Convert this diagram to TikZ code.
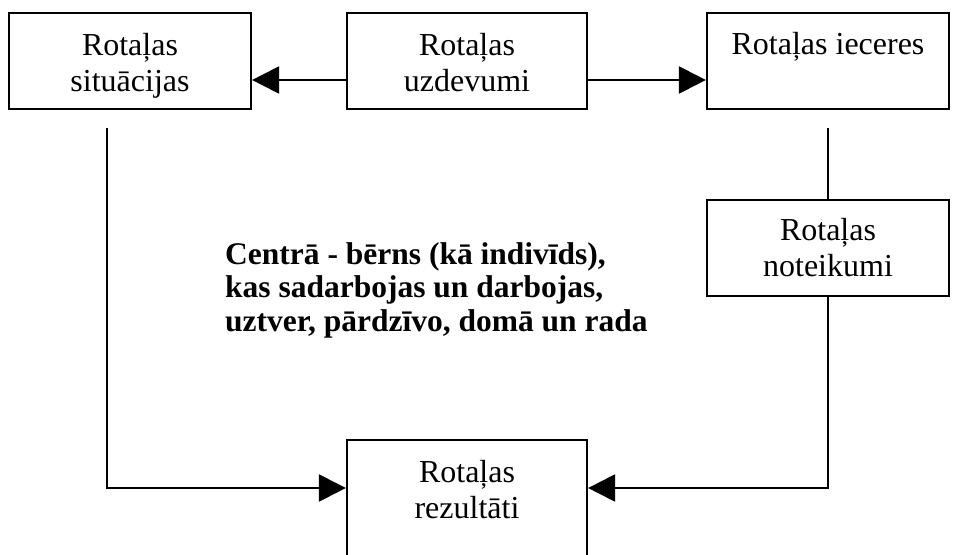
\documentclass[tikz,border=0pt]{standalone}
\usepackage{fontspec}
\setmainfont{Liberation Serif}
\usepackage{tikz}
\usetikzlibrary{arrows.meta,positioning}

\begin{document}
\begin{tikzpicture}[
    x=1pt, y=-1pt,
    box/.style={draw, line width=2.2pt, minimum width=242pt, minimum height=96pt, inner sep=0pt},
    txt/.style={anchor=north, inner sep=0pt, align=center, font=\fontsize{32}{36}\selectfont},
    ar/.style={-{Triangle[length=27pt, width=27pt]}, line width=2.2pt}
  ]
    \useasboundingbox (0,0) rectangle (960,554);

    \node[box] (sit) at (130,61) {};
    \node[box, minimum width=240pt] (uzd) at (467,61) {};
    \node[box] (iec) at (828,61) {};
    \node[box] (not) at (828,248) {};
    \node[box, minimum width=240pt, minimum height=120pt] (rez) at (467,500) {};

    \node[txt] (sit-t) at ([yshift=-21pt]sit.north) {Rotaļas\\situācijas};
    \node[txt] (uzd-t) at ([yshift=-21pt]uzd.north) {Rotaļas\\uzdevumi};
    \node[txt] (iec-t) at ([yshift=-20pt]iec.north) {Rotaļas ieceres};
    \node[txt] (not-t) at ([yshift=-19pt]not.north) {Rotaļas\\noteikumi};
    \node[txt] (rez-t) at ([yshift=-21pt]rez.north) {Rotaļas\\rezultāti};

    \node[anchor=north west, inner sep=0pt, align=left, font=\fontsize{31.5}{33.5}\selectfont\bfseries] (centrs) at (225,242)
      {Centrā - bērns (kā indivīds),\\kas sadarbojas un darbojas,\\uztver, pārdzīvo, domā un rada};

    \draw[ar] ([yshift=-19pt]uzd.west) -- ([yshift=-19pt]sit.east);
    \draw[ar] ([yshift=-19pt]uzd.east) -- ([yshift=-19pt]iec.west);
    \draw[line width=2.2pt] ([yshift=-18pt]iec.south) -- (not.north);
    \draw[ar] ([xshift=-23pt,yshift=-18pt]sit.south) |- ([yshift=12pt]rez.west);
    \draw[ar] (not.south) |- ([yshift=12pt]rez.east);
  \end{tikzpicture}
\end{document}
